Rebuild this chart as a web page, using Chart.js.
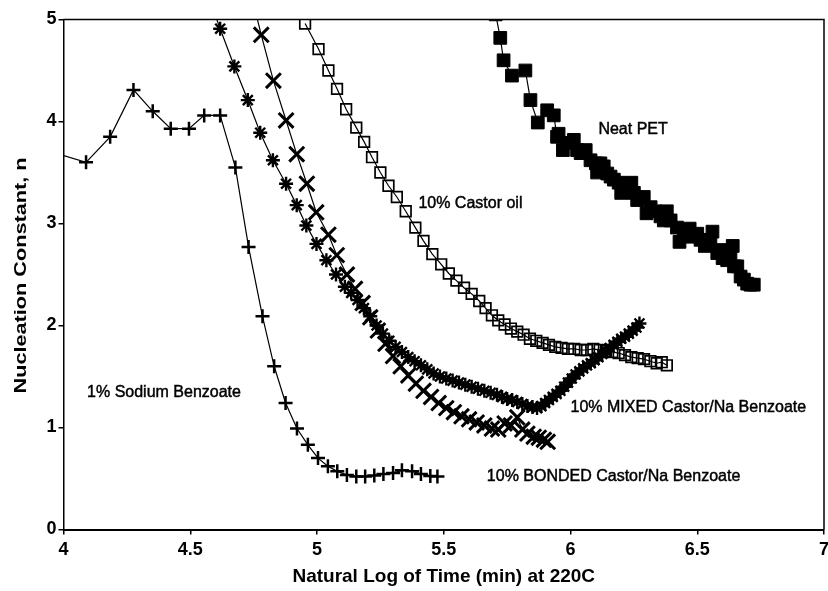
<!DOCTYPE html>
<html>
<head>
<meta charset="utf-8">
<script src="https://cdn.jsdelivr.net/npm/chart.js@4"></script>
<style>
  html, body { margin: 0; padding: 0; background: #fff; }
  #wrap { width: 828px; height: 591px; }
</style>
</head>
<body>
<div id="wrap"><canvas id="chart" width="828" height="591"></canvas></div>
<script>
// values (x = ln time, y = nucleation constant n)
const sodiumX = [3.970, 4.089, 4.184, 4.276, 4.352, 4.423, 4.495, 4.555, 4.618, 4.678, 4.730, 4.785, 4.831, 4.876, 4.921, 4.964, 5.004, 5.043, 5.080, 5.118, 5.155, 5.190, 5.226, 5.262, 5.300, 5.335, 5.375, 5.410, 5.447, 5.475];
const sodiumY = [3.69, 3.60, 3.85, 4.31, 4.10, 3.93, 3.93, 4.06, 4.06, 3.55, 2.77, 2.09, 1.60, 1.24, 0.99, 0.83, 0.70, 0.62, 0.57, 0.535, 0.52, 0.52, 0.53, 0.545, 0.555, 0.58, 0.57, 0.545, 0.525, 0.52];

const mixedX = [4.590, 4.618, 4.674, 4.727, 4.776, 4.826, 4.878, 4.920, 4.958, 4.998, 5.037, 5.075, 5.110, 5.135, 5.160, 5.185, 5.210, 5.235, 5.260, 5.285, 5.310, 5.335, 5.360, 5.385, 5.410, 5.435, 5.460, 5.485, 5.510, 5.535, 5.560, 5.585, 5.610, 5.635, 5.660, 5.685, 5.710, 5.730, 5.750, 5.770, 5.790, 5.810, 5.830, 5.850, 5.868, 5.885, 5.900, 5.915, 5.930, 5.945, 5.960, 5.975, 5.990, 6.005, 6.020, 6.035, 6.050, 6.065, 6.080, 6.095, 6.110, 6.125, 6.140, 6.155, 6.170, 6.185, 6.200, 6.215, 6.230, 6.245, 6.260, 6.272];
const mixedY = [5.10, 4.91, 4.54, 4.21, 3.89, 3.62, 3.39, 3.18, 2.98, 2.80, 2.64, 2.50, 2.38, 2.32, 2.25, 2.17, 2.09, 2.00, 1.92, 1.85, 1.79, 1.74, 1.69, 1.65, 1.61, 1.57, 1.53, 1.50, 1.48, 1.46, 1.44, 1.42, 1.40, 1.38, 1.36, 1.34, 1.32, 1.30, 1.28, 1.27, 1.25, 1.23, 1.21, 1.20, 1.19, 1.21, 1.24, 1.27, 1.30, 1.33, 1.36, 1.40, 1.44, 1.48, 1.52, 1.55, 1.58, 1.61, 1.63, 1.66, 1.69, 1.72, 1.75, 1.78, 1.81, 1.84, 1.87, 1.89, 1.92, 1.95, 1.98, 2.02];

const bondedX = [4.755, 4.780, 4.828, 4.878, 4.920, 4.960, 4.997, 5.045, 5.078, 5.118, 5.150, 5.180, 5.210, 5.240, 5.270, 5.300, 5.330, 5.360, 5.390, 5.420, 5.450, 5.480, 5.510, 5.540, 5.570, 5.600, 5.630, 5.660, 5.690, 5.715, 5.740, 5.765, 5.790, 5.810, 5.830, 5.855, 5.875, 5.895, 5.910];
const bondedY = [5.10, 4.85, 4.40, 4.01, 3.68, 3.39, 3.11, 2.89, 2.69, 2.50, 2.36, 2.22, 2.08, 1.95, 1.82, 1.70, 1.60, 1.51, 1.43, 1.36, 1.30, 1.24, 1.19, 1.15, 1.11, 1.08, 1.05, 1.02, 0.99, 0.98, 1.04, 1.02, 1.10, 0.98, 0.94, 0.91, 0.90, 0.88, 0.86];

const castorX = [4.953, 5.006, 5.045, 5.079, 5.115, 5.155, 5.186, 5.217, 5.250, 5.282, 5.315, 5.350, 5.388, 5.420, 5.455, 5.490, 5.520, 5.550, 5.580, 5.610, 5.640, 5.665, 5.690, 5.715, 5.740, 5.765, 5.790, 5.815, 5.840, 5.865, 5.890, 5.915, 5.940, 5.965, 5.990, 6.015, 6.040, 6.065, 6.090, 6.115, 6.140, 6.165, 6.190, 6.215, 6.240, 6.265, 6.290, 6.315, 6.340, 6.360, 6.380];
const castorY = [4.96, 4.71, 4.50, 4.32, 4.12, 3.94, 3.80, 3.65, 3.50, 3.37, 3.26, 3.12, 2.96, 2.83, 2.70, 2.60, 2.51, 2.44, 2.37, 2.31, 2.24, 2.17, 2.10, 2.05, 2.01, 1.97, 1.94, 1.91, 1.87, 1.85, 1.83, 1.81, 1.79, 1.78, 1.77, 1.77, 1.76, 1.76, 1.77, 1.76, 1.75, 1.74, 1.73, 1.71, 1.69, 1.68, 1.67, 1.65, 1.63, 1.64, 1.61];

const petX = [5.705, 5.723, 5.736, 5.769, 5.822, 5.842, 5.871, 5.908, 5.934, 5.947, 5.953, 5.970, 5.987, 6.013, 6.026, 6.040, 6.060, 6.079, 6.100, 6.105, 6.118, 6.131, 6.145, 6.158, 6.171, 6.190, 6.200, 6.210, 6.230, 6.240, 6.250, 6.263, 6.289, 6.300, 6.316, 6.335, 6.355, 6.368, 6.380, 6.395, 6.420, 6.430, 6.447, 6.470, 6.473, 6.500, 6.513, 6.530, 6.552, 6.560, 6.579, 6.592, 6.600, 6.618, 6.631, 6.640, 6.645, 6.658, 6.671, 6.684, 6.697, 6.710, 6.723];
const petY = [5.05, 4.82, 4.60, 4.45, 4.50, 4.21, 3.99, 4.11, 4.06, 3.85, 3.88, 3.72, 3.79, 3.82, 3.72, 3.69, 3.72, 3.62, 3.59, 3.50, 3.59, 3.56, 3.49, 3.46, 3.43, 3.40, 3.30, 3.36, 3.33, 3.40, 3.30, 3.23, 3.26, 3.10, 3.16, 3.12, 3.07, 3.03, 3.12, 3.03, 2.96, 2.82, 2.90, 2.95, 2.87, 2.90, 2.84, 2.78, 2.84, 2.92, 2.71, 2.74, 2.66, 2.64, 2.71, 2.78, 2.58, 2.58, 2.48, 2.45, 2.41, 2.40, 2.40];

const xTicks = [4, 4.5, 5, 5.5, 6, 6.5, 7];
const yTicks = [0, 1, 2, 3, 4, 5];

// in-plot curve labels, anchored at data coordinates
const notes = [
  { text: 'Neat PET', x: 6.11, y: 3.92 },
  { text: '10% Castor oil', x: 5.40, y: 3.20 },
  { text: '1% Sodium Benzoate', x: 4.093, y: 1.34 },
  { text: '10% MIXED Castor/Na Benzoate', x: 6.00, y: 1.20 },
  { text: '10% BONDED Castor/Na Benzoate', x: 5.67, y: 0.52 }
];

const yTitle = 'Nucleation Constant, n';
const FONT = '"Liberation Sans", Arial, Helvetica, sans-serif';

function series(label, xs, ys, style) {
  return Object.assign({
    label: label,
    data: xs.map((x, i) => ({ x: x, y: ys[i] })),
    showLine: true,
    borderColor: '#000',
    borderWidth: 1.2,
    pointBorderColor: '#000',
    pointBackgroundColor: '#000',
    clip: 0
  }, style);
}

const frameAndNotes = {
  id: 'frameAndNotes',
  afterDraw(chart) {
    const { ctx, chartArea: a, scales: { x, y } } = chart;
    ctx.save();
    ctx.strokeStyle = '#000';
    ctx.lineWidth = 1.5;
    ctx.beginPath();
    ctx.moveTo(a.left, a.top);
    ctx.lineTo(a.right, a.top);
    ctx.lineTo(a.right, a.bottom);
    ctx.stroke();

    // curve labels
    ctx.fillStyle = '#000';
    ctx.lineWidth = 0.45;
    ctx.font = '16px ' + FONT;
    ctx.textBaseline = 'middle';
    ctx.textAlign = 'left';
    notes.forEach(n => {
      const px = x.getPixelForValue(n.x), py = y.getPixelForValue(n.y);
      ctx.fillText(n.text, px, py);
      ctx.strokeText(n.text, px, py);
    });

    // y axis title, stretched along its length like the scan
    ctx.font = 'bold 17px ' + FONT;
    ctx.textAlign = 'center';
    const w = ctx.measureText(yTitle).width;
    ctx.translate(21, (a.top + a.bottom) / 2 + 1);
    ctx.rotate(-Math.PI / 2);
    ctx.scale(236 / w, 1);
    ctx.fillText(yTitle, 0, 0);
    ctx.restore();
  }
};

const tickFont = { family: FONT, size: 18, weight: 'bold' };

new Chart(document.getElementById('chart'), {
  type: 'scatter',
  data: {
    datasets: [
      series('1% Sodium Benzoate', sodiumX, sodiumY, { pointStyle: 'cross', pointRadius: 7, pointBorderWidth: 2.5 }),
      series('10% MIXED Castor/Na Benzoate', mixedX, mixedY, { pointStyle: 'star', pointRadius: 7, pointBorderWidth: 2.4 }),
      series('10% BONDED Castor/Na Benzoate', bondedX, bondedY, { pointStyle: 'crossRot', pointRadius: 10.5, pointBorderWidth: 3 }),
      series('10% Castor oil', castorX, castorY, { pointStyle: 'rect', pointRadius: 7.5, pointBorderWidth: 1.7, pointBackgroundColor: 'rgba(0,0,0,0)' }),
      series('Neat PET', petX, petY, { pointStyle: 'rect', pointRadius: 9, pointBorderWidth: 1 })
    ]
  },
  options: {
    responsive: false,
    devicePixelRatio: 1,
    animation: false,
    events: [],
    layout: { autoPadding: false, padding: { left: 0, top: 19.5, right: 4, bottom: 0 } },
    plugins: { legend: { display: false }, tooltip: { enabled: false } },
    scales: {
      x: {
        type: 'linear',
        min: 4,
        max: 7,
        afterBuildTicks: s => { s.ticks = xTicks.map(v => ({ value: v })); },
        afterFit: s => { s.height = 61.5; s.paddingLeft = 0; s.paddingRight = 0; },
        ticks: { color: '#000', font: tickFont, padding: 5, maxRotation: 0, autoSkip: false, callback: v => String(v) },
        grid: { drawOnChartArea: false, tickLength: 5, color: '#000', lineWidth: 1.5 },
        border: { color: '#000', width: 2 },
        title: { display: true, text: 'Natural Log of Time (min) at 220C', color: '#000', font: { family: FONT, size: 19, weight: 'bold' }, padding: { top: 0, bottom: 3 } }
      },
      y: {
        type: 'linear',
        min: 0,
        max: 5,
        afterBuildTicks: s => { s.ticks = yTicks.map(v => ({ value: v })); },
        afterFit: s => { s.width = 63.5; s.paddingTop = 0; s.paddingBottom = 0; },
        ticks: { color: '#000', font: tickFont, padding: 2, callback: v => String(v) },
        grid: { drawOnChartArea: false, tickLength: 5, color: '#000', lineWidth: 1.5 },
        border: { color: '#000', width: 1.5 },
        title: { display: false }
      }
    }
  },
  plugins: [frameAndNotes]
});
</script>
</body>
</html>
